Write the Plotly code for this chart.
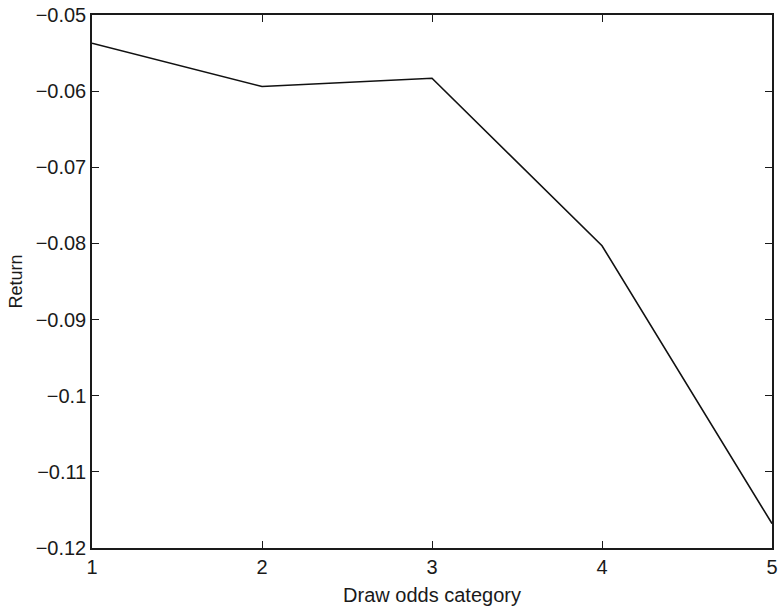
import plotly.graph_objects as go

categories = [1, 2, 3, 4, 5]
returns = [-0.0537, -0.0594, -0.0583, -0.0803, -0.1168]
y_ticks = [-0.05, -0.06, -0.07, -0.08, -0.09, -0.1, -0.11, -0.12]
y_tick_labels = ["\u22120.05", "\u22120.06", "\u22120.07", "\u22120.08", "\u22120.09", "\u22120.1", "\u22120.11", "\u22120.12"]

fig = go.Figure()
fig.add_trace(go.Scatter(x=categories, y=returns, mode="lines",
                         line=dict(color="#111111", width=1.6), showlegend=False))

fam = "Liberation Sans, Arial, sans-serif"
tick_font = dict(family=fam, size=20, color="#1a1a1a")
fig.update_layout(
    width=779, height=608,
    margin=dict(l=92, r=7, t=15, b=60, autoexpand=False),
    paper_bgcolor="white", plot_bgcolor="white",
    font=tick_font,
    xaxis=dict(range=[1, 5], tickvals=categories, ticks="inside", ticklen=7,
               tickcolor="#1a1a1a", showline=True, linecolor="#1a1a1a", linewidth=1.5,
               mirror="ticks", showgrid=False, zeroline=False, tickfont=tick_font,
               ticklabeloverflow="allow", automargin=False,
               title=dict(text="Draw odds category", standoff=11,
                          font=dict(family=fam, size=20, color="#1a1a1a"))),
    yaxis=dict(range=[-0.12, -0.05], tickvals=y_ticks, ticktext=y_tick_labels,
               ticks="inside", ticklen=7, tickcolor="#1a1a1a", showline=True,
               linecolor="#1a1a1a", linewidth=1.5, mirror="ticks", showgrid=False,
               zeroline=False, tickfont=tick_font, ticklabeloverflow="allow",
               automargin=False,
               title=dict(text="Return", standoff=8,
                          font=dict(family=fam, size=18, color="#1a1a1a"))),
)
fig.write_html(
    "out.html",
    config={"displayModeBar": False},
    post_script=(
        "document.body.style.margin='0';"
        "document.body.style.overflow='hidden';"
        "document.documentElement.style.overflow='hidden';"
    ),
)
